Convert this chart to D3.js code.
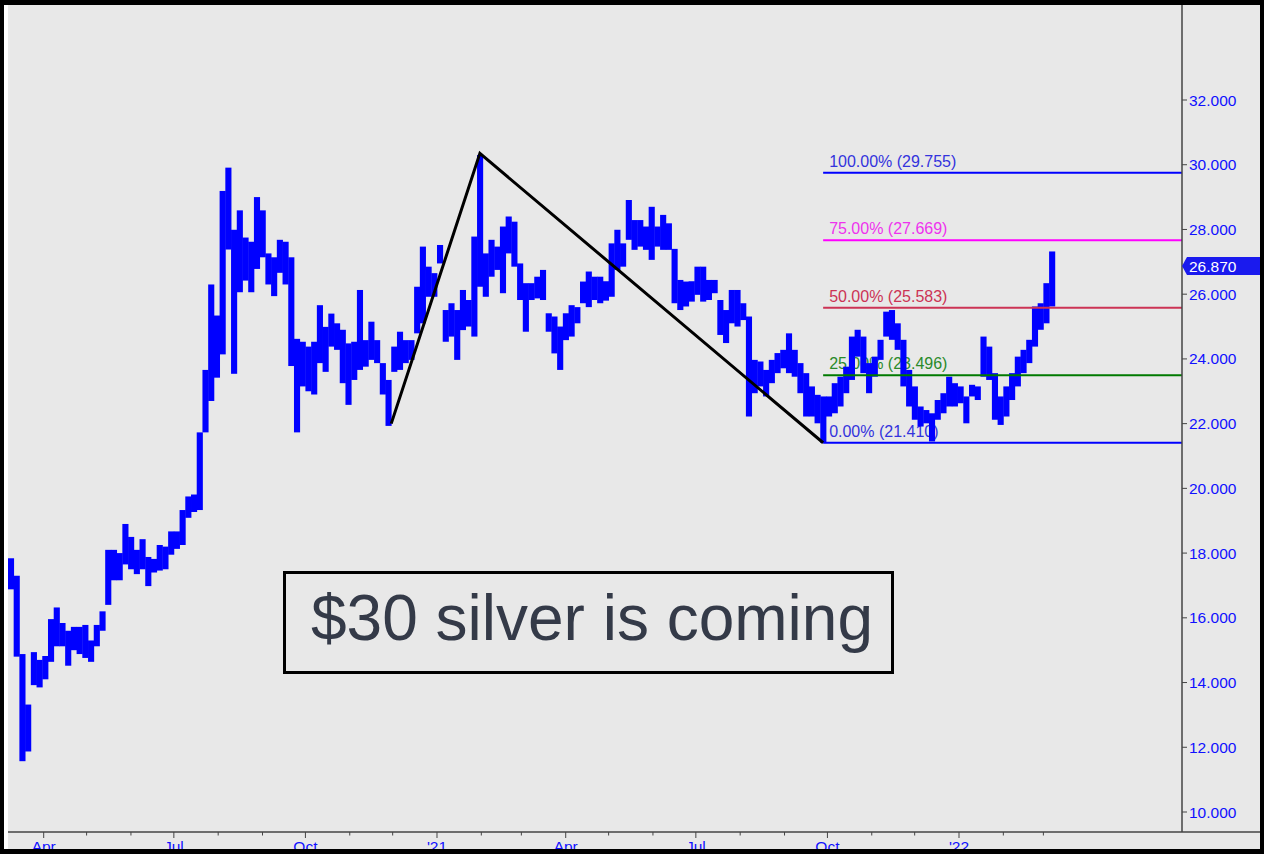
<!DOCTYPE html>
<html>
<head>
<meta charset="utf-8">
<script src="https://cdn.jsdelivr.net/npm/d3@7"></script>
<style>
html,body{margin:0;padding:0;background:#e8e8e8;}
svg{display:block;}
text{font-family:Arial,"Liberation Sans",sans-serif;}
</style>
</head>
<body>
<svg id="chart" width="1264" height="854"></svg>
<script>
// ---- data ----
const sampleDates = [
"2020-03-09","2020-03-13","2020-03-17","2020-03-21","2020-03-25","2020-03-29",
"2020-04-02","2020-04-06","2020-04-10","2020-04-14","2020-04-18","2020-04-22","2020-04-26","2020-04-30",
"2020-05-04","2020-05-08","2020-05-12","2020-05-16","2020-05-20","2020-05-24","2020-05-28",
"2020-06-01","2020-06-05","2020-06-09","2020-06-13","2020-06-17","2020-06-21","2020-06-25","2020-06-29",
"2020-07-03","2020-07-07","2020-07-11","2020-07-15","2020-07-19","2020-07-23","2020-07-27","2020-07-31",
"2020-08-04","2020-08-08","2020-08-12","2020-08-16","2020-08-20","2020-08-24","2020-08-28",
"2020-09-01","2020-09-05","2020-09-09","2020-09-13","2020-09-17","2020-09-21","2020-09-25","2020-09-29",
"2020-10-03","2020-10-07","2020-10-11","2020-10-15","2020-10-19","2020-10-23","2020-10-27","2020-10-31",
"2020-11-04","2020-11-08","2020-11-12","2020-11-16","2020-11-20","2020-11-24","2020-11-28",
"2020-12-02","2020-12-06","2020-12-10","2020-12-14","2020-12-18","2020-12-22","2020-12-26","2020-12-30",
"2021-01-03","2021-01-07","2021-01-11","2021-01-15","2021-01-19","2021-01-23","2021-01-27","2021-01-31",
"2021-02-04","2021-02-08","2021-02-12","2021-02-16","2021-02-20","2021-02-24","2021-02-28",
"2021-03-04","2021-03-08","2021-03-12","2021-03-16","2021-03-20","2021-03-24","2021-03-28",
"2021-04-01","2021-04-05","2021-04-09","2021-04-13","2021-04-17","2021-04-21","2021-04-25","2021-04-29",
"2021-05-03","2021-05-07","2021-05-11","2021-05-15","2021-05-19","2021-05-23","2021-05-27","2021-05-31",
"2021-06-04","2021-06-08","2021-06-12","2021-06-16","2021-06-20","2021-06-24","2021-06-28",
"2021-07-02","2021-07-06","2021-07-10","2021-07-14","2021-07-18","2021-07-22","2021-07-26","2021-07-30",
"2021-08-03","2021-08-07","2021-08-11","2021-08-15","2021-08-19","2021-08-23","2021-08-27","2021-08-31",
"2021-09-04","2021-09-08","2021-09-12","2021-09-16","2021-09-20","2021-09-24","2021-09-28",
"2021-10-02","2021-10-06","2021-10-10","2021-10-14","2021-10-18","2021-10-22","2021-10-26","2021-10-30",
"2021-11-03","2021-11-07","2021-11-11","2021-11-15","2021-11-19","2021-11-23","2021-11-27",
"2021-12-01","2021-12-05","2021-12-09","2021-12-13","2021-12-17","2021-12-21","2021-12-25","2021-12-29",
"2022-01-02","2022-01-06","2022-01-10","2022-01-14","2022-01-18","2022-01-22","2022-01-26","2022-01-30",
"2022-02-03","2022-02-07","2022-02-11","2022-02-15","2022-02-19","2022-02-23","2022-02-27",
"2022-03-03","2022-03-07"
];
const highs = [
17.84,17.30,14.88,13.32,14.94,14.70,
14.82,15.96,16.32,15.84,15.60,15.72,15.72,15.78,
15.30,15.78,16.20,18.10,18.10,18.00,18.90,
18.50,18.10,18.43,17.88,17.82,18.25,18.20,18.67,
18.67,19.33,19.75,19.81,21.73,23.66,26.30,25.34,
29.19,29.91,27.99,28.59,27.75,27.62,29.00,
28.59,27.26,27.14,27.68,27.62,27.14,24.62,24.53,
24.38,24.53,25.66,24.99,25.40,25.10,24.90,24.48,
24.53,26.13,24.58,25.15,24.58,23.87,23.35,
24.38,24.84,24.58,24.58,26.23,27.47,26.85,26.65,
27.52,25.51,25.72,25.51,26.13,25.82,27.78,30.30,
27.26,27.68,27.47,28.09,28.40,28.24,26.95,
26.34,26.34,26.54,26.75,25.41,25.31,25.00,
25.41,25.66,25.60,26.39,26.70,26.54,26.54,26.40,
27.57,27.99,27.57,28.91,28.29,28.29,28.09,28.70,
28.09,28.45,28.19,27.40,26.44,26.39,26.40,
26.85,26.85,26.44,26.44,25.82,25.51,26.13,26.13,
25.72,25.31,23.97,23.92,23.66,23.97,24.18,24.28,
24.79,24.28,23.87,23.56,23.15,22.89,22.84,
22.84,23.25,23.45,23.76,24.69,24.90,24.69,23.87,
24.07,24.59,25.46,25.51,25.10,24.59,23.66,
23.15,22.53,22.42,22.32,22.73,22.94,23.45,23.25,
23.15,22.84,23.20,23.15,24.69,24.38,23.56,22.84,
23.15,23.56,24.07,24.28,24.59,25.62,25.72,
26.34,27.32
];
const lows = [
16.88,14.80,11.57,11.87,13.92,13.85,
14.10,14.64,15.12,15.12,14.52,15.00,14.88,14.76,
14.64,15.12,15.60,16.40,17.16,17.16,17.65,
17.50,17.35,17.50,16.98,17.40,17.46,17.50,17.95,
18.13,18.25,19.09,19.27,19.33,21.73,22.70,23.42,
24.14,27.38,23.54,26.06,26.42,26.06,26.78,
27.14,26.30,25.94,26.66,26.30,23.78,21.73,23.15,
23.00,22.90,23.87,23.60,24.38,24.28,23.25,22.58,
23.35,23.66,23.76,23.97,23.87,22.90,21.93,
23.60,23.66,23.87,23.97,24.79,25.10,25.92,25.92,
26.95,24.53,24.69,23.97,24.89,25.00,24.69,26.23,
25.92,26.54,26.75,26.03,27.26,26.85,25.82,
24.84,25.82,25.87,25.82,24.84,24.17,23.66,
24.58,24.69,25.10,25.72,25.60,25.82,25.72,25.80,
25.92,26.75,26.85,27.68,27.37,27.47,27.37,27.06,
27.47,27.37,27.37,25.72,25.51,25.62,25.77,
25.98,25.77,25.82,26.03,24.74,24.49,25.10,25.00,
25.20,22.22,22.94,23.15,22.84,23.25,23.56,23.71,
23.56,23.45,22.94,22.22,22.22,22.01,21.41,
22.22,22.32,22.53,22.94,23.35,24.07,23.56,22.94,
23.45,23.97,24.69,24.59,24.28,23.15,22.53,
22.12,21.91,22.01,21.45,22.12,22.32,22.53,22.53,
22.63,22.01,22.84,22.73,23.45,23.35,22.12,21.96,
22.22,22.73,23.15,23.56,23.87,24.38,24.90,
25.10,25.62
];
const lastPrice = 26.870;

const fibLabels = ["0.00%","25.00%","50.00%","75.00%","100.00%"];
const fibValues = [21.410, 23.496, 25.583, 27.669, 29.755];
const fibStartDate = "2021-09-28";

const zigzagDates = ["2020-11-30","2021-01-31","2021-09-28"];
const zigzagValues = [22.00, 30.35, 21.41];

const yTickValues = [10,12,14,16,18,20,22,24,26,28,30,32];
const monthTicks = ["2020-04-01","2020-05-01","2020-06-01","2020-07-01","2020-08-01","2020-09-01",
"2020-10-01","2020-11-01","2020-12-01","2021-01-01","2021-02-01","2021-03-01","2021-04-01","2021-05-01",
"2021-06-01","2021-07-01","2021-08-01","2021-09-01","2021-10-01","2021-11-01","2021-12-01","2022-01-01",
"2022-02-01","2022-03-01"];
const quarterTicks = ["2020-04-01","2020-07-01","2020-10-01","2021-01-01","2021-04-01","2021-07-01","2021-10-01","2022-01-01"];
const quarterLabels = ["Apr","Jul","Oct","'21","Apr","Jul","Oct","'22"];

const annotationText = "$30 silver is coming";

// ---- styles ----
const BG = "#e8e8e8", BAR = "#0000ff", AXIS = "#444444", TICKTXT = "#1010ff";
const fibLineColors = ["#0000ff","#007a00","#cc3355","#ff00ff","#0000ff"];
const fibTextColors = ["#3333dd","#2a8a2a","#cc3355","#ee33ee","#3333dd"];

const parse = d3.utcParse("%Y-%m-%d");
const svg = d3.select("#chart");

const x = d3.scaleUtc().domain([parse("2020-04-01"), parse("2022-01-01")]).range([43.7, 959]);
const y = d3.scaleLinear().domain([10, 32]).range([812, 100]);

const plotRight = 1182, axisY = 832;

// background
svg.append("rect").attr("x",0).attr("y",0).attr("width",1264).attr("height",854).attr("fill",BG);

// fib labels (under bars)
const fibG = svg.append("g");
fibValues.forEach((v,i)=>{
  fibG.append("text")
    .attr("x", x(parse(fibStartDate)) + 6)
    .attr("y", y(v) - 6)
    .attr("font-size", 16)
    .attr("fill", fibTextColors[i])
    .text(`${fibLabels[i]} (${v.toFixed(3)})`);
});

// bars
const data = sampleDates.map((d,i)=>({date:parse(d), hi:highs[i], lo:lows[i]}));
const step = x(data[1].date) - x(data[0].date);
svg.append("g").selectAll("rect").data(data).join("rect")
  .attr("x", d => x(d.date) - step/2)
  .attr("width", step + 0.4)
  .attr("y", d => y(d.hi))
  .attr("height", d => Math.max(1.5, y(d.lo) - y(d.hi)))
  .attr("fill", BAR);

// fib lines
fibValues.forEach((v,i)=>{
  svg.append("line")
    .attr("x1", x(parse(fibStartDate))).attr("x2", plotRight)
    .attr("y1", y(v)).attr("y2", y(v))
    .attr("stroke", fibLineColors[i]).attr("stroke-width", 2);
});

// zigzag
const zz = zigzagDates.map((d,i)=>[x(parse(d)), y(zigzagValues[i])]);
svg.append("path").attr("d", d3.line()(zz))
  .attr("fill","none").attr("stroke","#000").attr("stroke-width",3).attr("stroke-linejoin","miter");

// annotation box
svg.append("rect").attr("x",284.5).attr("y",572.5).attr("width",608).attr("height",100)
  .attr("fill","none").attr("stroke","#000").attr("stroke-width",3);
svg.append("text").attr("x",311).attr("y",640).attr("font-size",64)
  .attr("fill","#343a48").text(annotationText);

// y axis
svg.append("line").attr("x1",plotRight).attr("x2",plotRight).attr("y1",5).attr("y2",axisY)
  .attr("stroke",AXIS).attr("stroke-width",1.5);
const yg = svg.append("g");
yTickValues.forEach(v=>{
  yg.append("line").attr("x1",plotRight).attr("x2",plotRight+5).attr("y1",y(v)).attr("y2",y(v))
    .attr("stroke",AXIS).attr("stroke-width",1);
  yg.append("text").attr("x",plotRight+7).attr("y",y(v)+5.5).attr("font-size",15.5)
    .attr("fill",TICKTXT).text(v.toFixed(3));
});

// last price tag
const py = y(lastPrice);
svg.append("path")
  .attr("d", `M${plotRight},${py} L${plotRight+5},${py-9} L1260,${py-9} L1260,${py+9} L${plotRight+5},${py+9} Z`)
  .attr("fill","#1a1aee");
svg.append("text").attr("x",plotRight+7).attr("y",py+5.5).attr("font-size",15.5)
  .attr("fill","#ffffff").text(lastPrice.toFixed(3));

// x axis
svg.append("line").attr("x1",8).attr("x2",1260).attr("y1",axisY).attr("y2",axisY)
  .attr("stroke",AXIS).attr("stroke-width",1.5);
const xg = svg.append("g");
monthTicks.forEach(d=>{
  const major = quarterTicks.includes(d);
  xg.append("line").attr("x1",x(parse(d))).attr("x2",x(parse(d)))
    .attr("y1",axisY).attr("y2",axisY + (major?6:3.5))
    .attr("stroke",AXIS).attr("stroke-width",1);
});
quarterTicks.forEach((d,i)=>{
  xg.append("text").attr("x",x(parse(d))).attr("y",852).attr("text-anchor","middle")
    .attr("font-size",15.5).attr("fill",TICKTXT).text(quarterLabels[i]);
});

// frame
svg.append("rect").attr("x",0).attr("y",0).attr("width",1264).attr("height",5).attr("fill","#000");
svg.append("rect").attr("x",0).attr("y",0).attr("width",4).attr("height",854).attr("fill","#000");
svg.append("rect").attr("x",4).attr("y",5).attr("width",4).attr("height",844).attr("fill","#ffffff");
svg.append("rect").attr("x",1260).attr("y",0).attr("width",4).attr("height",854).attr("fill","#000");
svg.append("rect").attr("x",0).attr("y",849).attr("width",1264).attr("height",5).attr("fill","#000");
</script>
</body>
</html>
